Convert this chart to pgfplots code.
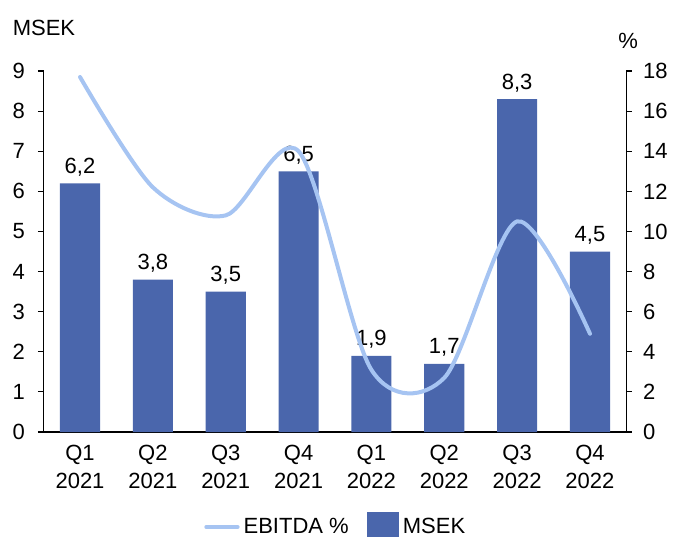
\documentclass[border=0pt]{standalone}
\usepackage{fontspec}
\setmainfont{Liberation Sans}
\usepackage{pgfplots}
\pgfplotsset{compat=1.18}
\definecolor{barblue}{HTML}{4A66AC}
\definecolor{lineblue}{HTML}{A6C4F2}

\begin{document}
\begin{tikzpicture}[font=\fontsize{11}{14}\selectfont]
\useasboundingbox (-21.8pt,-52pt) rectangle (315.7pt,216pt);
\pgfplotsset{
  base/.style={
    scale only axis, width=291.4pt, height=180.5pt,
    xmin=-0.5, xmax=7.5,
    /pgf/number format/assume math mode=true,
    tick align=outside, major tick length=2.8pt,
    axis line style={black,line width=0.6pt},
    tick style={black,line width=0.6pt},
    ticklabel style={font=\fontsize{11}{14}\selectfont},
  }
}
\begin{axis}[base,
  ybar, bar width=0.55,
  axis y line*=left, axis x line*=bottom,
  ymin=0, ymax=9, ytick={0,1,...,9},
  xtick={0,...,7},
  xticklabels={{Q1\\2021},{Q2\\2021},{Q3\\2021},{Q4\\2021},{Q1\\2022},{Q2\\2022},{Q3\\2022},{Q4\\2022}},
  xticklabel style={align=center},
  major x tick style={draw=none},
  yticklabel style={xshift=-3pt},
  nodes near coords={\pgfmathprintnumber[fixed,fixed zerofill,precision=1,use comma]{\pgfplotspointmeta}},
  every node near coord/.append style={font=\fontsize{11}{14}\selectfont,black},
  clip=false]
\addplot[fill=barblue, draw=none] coordinates {
 (0,6.2) (1,3.8) (2,3.5) (3,6.5) (4,1.9) (5,1.7) (6,8.3) (7,4.5)};
\node[anchor=west] at (rel axis cs:-0.065,1.119) {MSEK};
\node at (rel axis cs:1.003,1.083) {\%};
\end{axis}
\begin{axis}[base,
  axis y line*=right, axis x line=none,
  ymin=0, ymax=18, ytick={0,2,...,18},
  yticklabel style={xshift=2pt},
  legend columns=2,
  legend style={draw=none, at={(0.503,-0.263)}, anchor=center,
    font=\fontsize{11}{14}\selectfont,
    /tikz/every even column/.append style={column sep=7pt}},
  clip=false]
\addplot[lineblue, line width=2pt, line cap=round, smooth,
  legend image code/.code={\draw[lineblue,line width=2pt,line cap=round] (0cm,0cm) -- (0.55cm,0cm);}]
 coordinates {(0,17.7) (1,12.2) (2,10.8) (3,14.0) (4,3.1) (5,2.7) (6,10.5) (7,4.9)};
\addlegendentry{EBITDA \%}
\addlegendimage{legend image code/.code={\fill[barblue] (0cm,-0.25cm) rectangle (0.55cm,0.25cm);}}
\addlegendentry{MSEK}
\end{axis}
\end{tikzpicture}
\end{document}
